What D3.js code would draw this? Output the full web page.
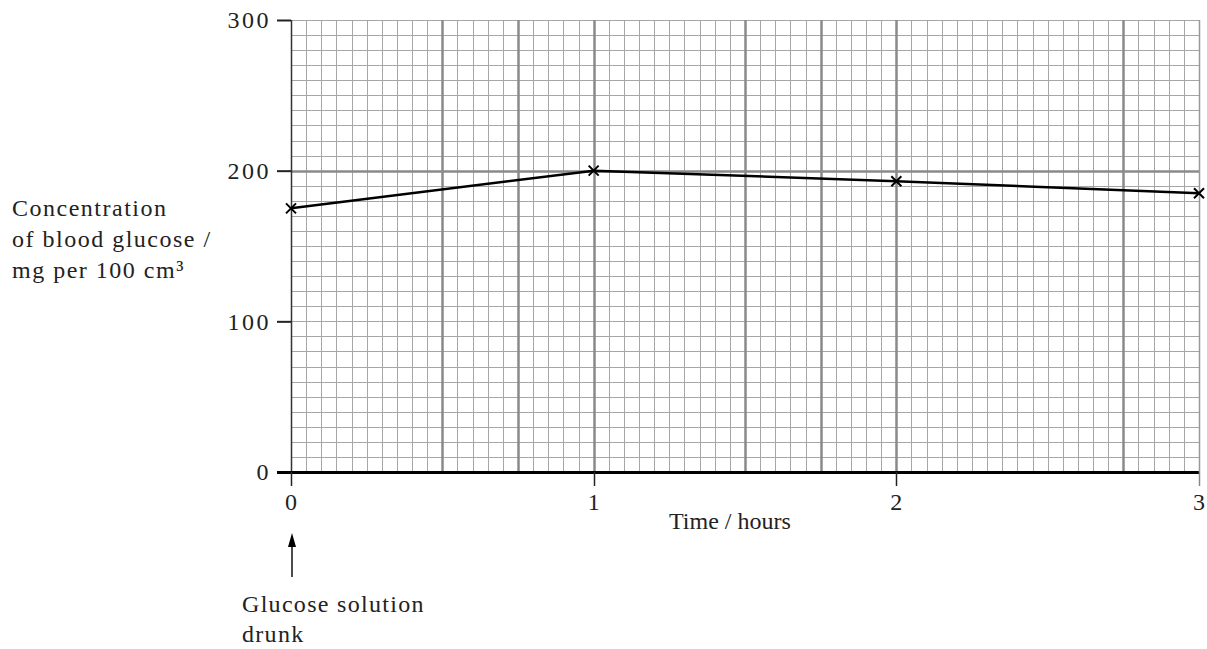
<!DOCTYPE html>
<html>
<head>
<meta charset="utf-8">
<title>Blood glucose</title>
<script src="https://d3js.org/d3.v7.min.js"></script>
<style>
  body { margin: 0; background: #fff; }
  text { font-family: "Liberation Serif", "Times New Roman", serif; fill: #222; }
</style>
</head>
<body>
<div id="chart"></div>
<script>
// data
var times = [0, 1, 2, 3];              // hours
var glucose = [175, 200, 193, 185];     // mg per 100 cm3
var xTicks = [0, 1, 2, 3];
var yTicks = [0, 100, 200, 300];
var heavyX = [0.5, 0.75, 1, 1.5, 1.75, 2, 2.75];
var heavyY = [200];

var W = 1207, H = 649;
var svg = d3.select("#chart").append("svg")
    .attr("width", W).attr("height", H);

var x = d3.scaleLinear().domain([0, 3]).range([291, 1199]);
var y = d3.scaleLinear().domain([0, 300]).range([472, 20]);

// minor grid: 3 min across, 10 units up
var gx = d3.range(0, 61).map(function(i) { return i * 0.05; });
var gy = d3.range(0, 31).map(function(i) { return i * 10; });

var grid = svg.append("g");
grid.selectAll(".vx").data(gx).enter().append("line")
    .attr("x1", function(d) { return Math.round(x(d)) + 0.5; })
    .attr("x2", function(d) { return Math.round(x(d)) + 0.5; })
    .attr("y1", y(300)).attr("y2", y(0))
    .attr("stroke", "#a6a6a6").attr("stroke-width", 1);
grid.selectAll(".hy").data(gy).enter().append("line")
    .attr("y1", function(d) { return Math.round(y(d)) + 0.5; })
    .attr("y2", function(d) { return Math.round(y(d)) + 0.5; })
    .attr("x1", x(0)).attr("x2", x(3))
    .attr("stroke", "#a6a6a6").attr("stroke-width", 1);

grid.selectAll(".hvx").data(heavyX).enter().append("line")
    .attr("x1", function(d) { return Math.round(x(d)) + 0.5; })
    .attr("x2", function(d) { return Math.round(x(d)) + 0.5; })
    .attr("y1", y(300)).attr("y2", y(0))
    .attr("stroke", "#8a8a8a").attr("stroke-width", 2.5);
grid.selectAll(".hvy").data(heavyY).enter().append("line")
    .attr("y1", function(d) { return Math.round(y(d)) + 0.5; })
    .attr("y2", function(d) { return Math.round(y(d)) + 0.5; })
    .attr("x1", x(0)).attr("x2", x(3))
    .attr("stroke", "#8a8a8a").attr("stroke-width", 2.5);

// axes
var yAxis = svg.append("g");
yAxis.append("line")
    .attr("x1", x(0) + 0.5).attr("x2", x(0) + 0.5)
    .attr("y1", y(300)).attr("y2", y(0))
    .attr("stroke", "#333").attr("stroke-width", 1.5);
yAxis.selectAll(".yt").data(yTicks).enter().append("line")
    .attr("x1", x(0) - 14).attr("x2", x(0))
    .attr("y1", function(d) { return y(d) + 0.5; })
    .attr("y2", function(d) { return y(d) + 0.5; })
    .attr("stroke", "#222").attr("stroke-width", 2);
yAxis.selectAll(".yl").data(yTicks).enter().append("text")
    .attr("x", x(0) - 20)
    .attr("y", function(d) { return y(d); })
    .attr("dy", "0.35em")
    .attr("text-anchor", "end")
    .attr("font-size", 24)
    .attr("letter-spacing", 2.5)
    .text(function(d) { return d; });

var xAxis = svg.append("g");
xAxis.append("line")
    .attr("x1", x(0) - 14).attr("x2", x(3))
    .attr("y1", y(0) + 0.5).attr("y2", y(0) + 0.5)
    .attr("stroke", "#000").attr("stroke-width", 3);
xAxis.selectAll(".xt").data(xTicks).enter().append("line")
    .attr("x1", function(d) { return Math.round(x(d)) + 0.5; })
    .attr("x2", function(d) { return Math.round(x(d)) + 0.5; })
    .attr("y1", y(0)).attr("y2", y(0) + 14)
    .attr("stroke", function(d) { return d === 3 ? "#888" : "#222"; })
    .attr("stroke-width", 1.5);
xAxis.selectAll(".xl").data(xTicks).enter().append("text")
    .attr("x", function(d) { return x(d); })
    .attr("y", y(0) + 38)
    .attr("text-anchor", "middle")
    .attr("font-size", 24)
    .text(function(d) { return d; });

// right border
svg.append("line")
    .attr("x1", x(3) + 0.5).attr("x2", x(3) + 0.5)
    .attr("y1", y(300)).attr("y2", y(0))
    .attr("stroke", "#999").attr("stroke-width", 1.5);

// data line + crosses
var pts = times.map(function(t, i) { return { t: t, v: glucose[i] }; });
var line = d3.line()
    .x(function(d) { return x(d.t); })
    .y(function(d) { return y(d.v); });
svg.append("path").datum(pts)
    .attr("fill", "none").attr("stroke", "#000").attr("stroke-width", 2.5)
    .attr("d", line);
var cr = 5;
svg.selectAll(".mk").data(pts).enter().append("path")
    .attr("d", function(d) {
      var cx = x(d.t), cy = y(d.v);
      return "M" + (cx - cr) + "," + (cy - cr) + "L" + (cx + cr) + "," + (cy + cr) +
             "M" + (cx - cr) + "," + (cy + cr) + "L" + (cx + cr) + "," + (cy - cr);
    })
    .attr("stroke", "#000").attr("stroke-width", 2).attr("fill", "none");

// axis titles
svg.append("text")
    .attr("x", 669).attr("y", 529)
    .attr("font-size", 24)
    .text("Time / hours");

var yl = svg.append("text").attr("font-size", 24).attr("letter-spacing", 1.5);
yl.append("tspan").attr("x", 12).attr("y", 216).text("Concentration");
yl.append("tspan").attr("x", 12).attr("y", 247).text("of blood glucose /");
yl.append("tspan").attr("x", 12).attr("y", 278).text("mg per 100 cm³");

// annotation arrow
var ax = Math.round(x(0)) + 1;
svg.append("line")
    .attr("x1", ax).attr("x2", ax)
    .attr("y1", 577).attr("y2", 540)
    .attr("stroke", "#111").attr("stroke-width", 1.5);
svg.append("path")
    .attr("d", "M" + (ax - 4) + ",547L" + ax + ",533L" + (ax + 4) + ",547Z")
    .attr("fill", "#000");

var note = svg.append("text").attr("font-size", 24).attr("letter-spacing", 1.3);
note.append("tspan").attr("x", 242).attr("y", 612).text("Glucose solution");
note.append("tspan").attr("x", 242).attr("y", 642).text("drunk");
</script>
</body>
</html>
